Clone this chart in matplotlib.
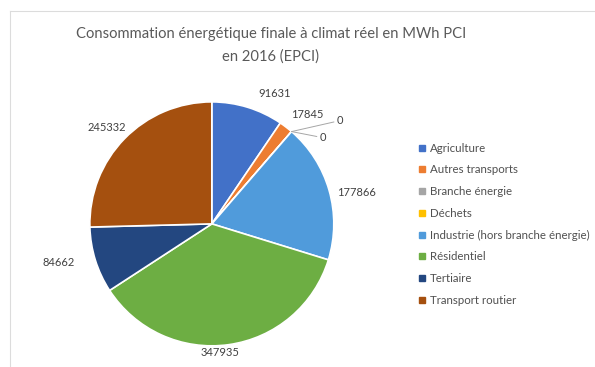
import numpy as np
import matplotlib
matplotlib.use("Agg")
import matplotlib.pyplot as plt
from matplotlib.lines import Line2D

plt.rcParams['font.family'] = ['Lato', 'DejaVu Sans']

sectors = ["Agriculture", "Autres transports", "Branche énergie", "Déchets",
           "Industrie (hors branche énergie)", "Résidentiel", "Tertiaire",
           "Transport routier"]
values = [91631, 17845, 0, 0, 177866, 347935, 84662, 245332]
colors = ["#4271C8", "#ED7D31", "#A5A5A5", "#FFC000", "#509BDB", "#6DAE43",
          "#234780", "#A5500F"]
title = "Consommation énergétique finale à climat réel en MWh PCI\nen 2016 (EPCI)"

# small pixel nudges for the value labels (x, y)
nudge = {"Agriculture": (24, 0), "Résidentiel": (-10, 6), "Tertiaire": (-12, 0),
         "Transport routier": (8, 0), "Industrie (hors branche énergie)": (0, -5)}

fig = plt.figure(figsize=(5.95, 3.67), dpi=100)
fig.patch.set_facecolor("white")

# faint frame of the chart area
fig.add_artist(Line2D([10 / 595, 1], [1 - 11 / 367, 1 - 11 / 367], color="#dcdcdc", lw=0.8))
fig.add_artist(Line2D([10 / 595, 10 / 595], [0, 1 - 11 / 367], color="#dcdcdc", lw=0.8))

fig.text(0.455, 1 - 45 / 367, title, ha="center", va="center", fontsize=10.6,
         color="#595959", linespacing=1.75)

ax = fig.add_axes([0.151, 0.0575, 0.410, 0.665])
wedges, _ = ax.pie(values, colors=colors, startangle=90, counterclock=False,
                   radius=1.0, wedgeprops=dict(edgecolor="white", linewidth=1.2))
ax.set_xlim(-1, 1)
ax.set_ylim(-1, 1)
ax.set_aspect("equal")
ax.axis("off")

total = float(sum(values))
start = 90 - 360 * np.concatenate([[0], np.cumsum(values)[:-1]]) / total
mid = start - 180 * np.array(values) / total

# value labels outside each slice
px = 1 / 122.0
for name, v, a in zip(sectors, values, mid):
    if v == 0:
        continue
    ang = np.deg2rad(a)
    c, s = np.cos(ang), np.sin(ang)
    ha = "left" if c > 0.35 else ("right" if c < -0.35 else "center")
    va = "bottom" if s > 0.35 else ("top" if s < -0.35 else "center")
    nx, ny = nudge.get(name, (0, 0))
    ax.text(1.07 * c + nx * px, 1.07 * s + ny * px, str(v), ha=ha, va=va,
            fontsize=8, color="#404040", clip_on=False)

# zero-valued slices get leader lines
zero_idx = [i for i, v in enumerate(values) if v == 0]
offsets = [(0.37, 0.09), (0.23, -0.05)]
for k, i in enumerate(zero_idx):
    ang = np.deg2rad(start[i])
    x0, y0 = np.cos(ang), np.sin(ang)
    dx, dy = offsets[k]
    ax.annotate(str(values[i]), xy=(x0, y0), xytext=(x0 + dx, y0 + dy),
                fontsize=8, color="#404040", va="center", ha="left",
                arrowprops=dict(arrowstyle="-", color="#a6a6a6", lw=0.7,
                                shrinkA=0, shrinkB=0),
                annotation_clip=False)

handles = [plt.Line2D([], [], marker="s", linestyle="none", markersize=4,
                      markerfacecolor=col, markeredgecolor=col) for col in colors]
fig.legend(handles, sectors, loc="upper left", bbox_to_anchor=(412 / 595, 1 - 137 / 367),
           frameon=False, fontsize=8.3, labelcolor="#505050", handletextpad=0.25,
           labelspacing=0.93, handlelength=0.8, borderpad=0)

fig.savefig("out.png", dpi=100, facecolor="white")
